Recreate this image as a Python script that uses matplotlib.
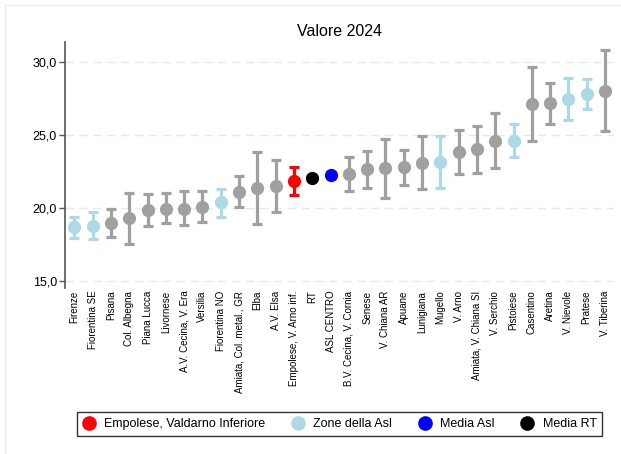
import matplotlib
matplotlib.use("Agg")
import matplotlib.pyplot as plt
from matplotlib.lines import Line2D
from matplotlib.patches import Rectangle
from matplotlib.ticker import FuncFormatter

plt.rcParams["font.family"] = ["Liberation Sans", "DejaVu Sans"]

# ── Data ──────────────────────────────────────────────────────────────────────
categories = [
    "Firenze", "Fiorentina SE", "Pisana", "Col. Albegna", "Piana Lucca",
    "Livornese", "A.V. Cecina, V. Era", "Versilia", "Fiorentina NO",
    "Amiata, Col. metal., GR", "Elba", "A.V. Elsa", "Empolese, V. Arno inf.",
    "RT", "ASL CENTRO", "B.V. Cecina, V. Cornia", "Senese", "V. Chiana AR",
    "Apuane", "Lunigiana", "Mugello", "V. Arno", "Amiata, V. Chiana SI",
    "V. Serchio", "Pistoiese", "Casentino", "Aretina", "V. Nievole",
    "Pratese", "V. Tiberina",
]
values = [18.72, 18.79, 18.95, 19.29, 19.86, 19.93, 19.95, 20.07, 20.41,
          21.07, 21.37, 21.51, 21.83, 22.05, 22.24, 22.33, 22.65, 22.72,
          22.79, 23.11, 23.15, 23.84, 24.02, 24.61, 24.61, 27.14, 27.17,
          27.47, 27.81, 28.01]
lower = [17.97, 17.85, 18.01, 17.55, 18.79, 18.95, 18.84, 19.02, 19.40,
         20.07, 18.92, 19.73, 20.91, 22.05, 22.09, 21.16, 21.39, 20.71,
         21.55, 21.28, 21.37, 22.33, 22.42, 22.72, 23.49, 24.61, 25.77,
         26.03, 26.76, 25.29]
upper = [19.40, 19.75, 19.91, 21.05, 20.94, 21.00, 21.14, 21.16, 21.32,
         22.17, 23.86, 23.27, 22.79, 22.05, 22.39, 23.52, 23.93, 24.70,
         24.00, 24.93, 24.93, 25.36, 25.62, 26.53, 25.73, 29.66, 28.58,
         28.92, 28.84, 30.80]
# group: 0 = other zones, 1 = ASL zones, 2 = Empolese, 3 = ASL mean, 4 = RT mean
groups = [1, 1, 0, 0, 0, 0, 0, 0, 1, 0, 0, 0, 2, 4, 3, 0, 0, 0, 0, 0,
          1, 0, 0, 0, 1, 0, 0, 1, 1, 0]

GROUP_COLORS = {0: "#a0a0a0", 1: "#add8e6", 2: "#ff0000", 3: "#0000ff", 4: "#000000"}
legend_items = [
    ("Empolese, Valdarno Inferiore", "#ff0000"),
    ("Zone della Asl", "#add8e6"),
    ("Media Asl", "#0000ff"),
    ("Media RT", "#000000"),
]

# ── Figure ────────────────────────────────────────────────────────────────────
fig = plt.figure(figsize=(6.21, 4.54), dpi=100)
ax = fig.add_axes([0.105, 0.372, 0.884, 0.536])

# faint outer frame
fig.patches.append(Rectangle((5 / 621, -0.05), 1.2, 1 - 5 / 454 + 0.05,
                             transform=fig.transFigure, fill=False,
                             edgecolor="#e6eef0", linewidth=1))

for i, (v, lo, hi, g) in enumerate(zip(values, lower, upper, groups)):
    c = GROUP_COLORS[g]
    ax.errorbar(i, v, yerr=[[v - lo], [hi - v]], fmt="o", color=c,
                ecolor=c, markersize=8.5, elinewidth=2.3, capsize=3.8,
                capthick=2.3, zorder=3)

ax.set_xlim(-0.5, len(categories) - 0.5)
ax.set_ylim(14.73, 31.37)
ax.set_yticks([15, 20, 25, 30])
ax.yaxis.set_major_formatter(FuncFormatter(lambda y, _: f"{y:.1f}".replace(".", ",")))
ax.set_xticks(range(len(categories)))
ax.set_xticklabels(categories, rotation=90, fontsize=7, va="top", ha="center")
ax.tick_params(axis="x", length=0, pad=4)
ax.tick_params(axis="y", length=4, width=1, color="#555555", labelsize=9, pad=2)

ax.grid(True, axis="y", linestyle=(0, (6, 4)), color="#e8e8e8", linewidth=1)
ax.set_axisbelow(True)
for s in ["top", "right", "bottom"]:
    ax.spines[s].set_visible(False)
ax.spines["left"].set_color("#555555")
ax.spines["left"].set_linewidth(1.2)
ax.spines["left"].set_bounds(14.5, 31.37)

ax.set_title("Valore 2024", fontsize=11.5, pad=4)

handles = [Line2D([], [], marker="o", linestyle="none", color=c, markersize=9.5)
           for _, c in legend_items]
leg = fig.legend(handles, [l for l, _ in legend_items], loc="center",
                 bbox_to_anchor=(0.547, 0.066), ncol=4, fontsize=9,
                 frameon=True, fancybox=False, edgecolor="black",
                 handletextpad=0.73, columnspacing=2.1, borderpad=0.45,
                 handlelength=1.0, borderaxespad=0)
leg.get_frame().set_linewidth(1)

fig.savefig("out.png", dpi=100)
